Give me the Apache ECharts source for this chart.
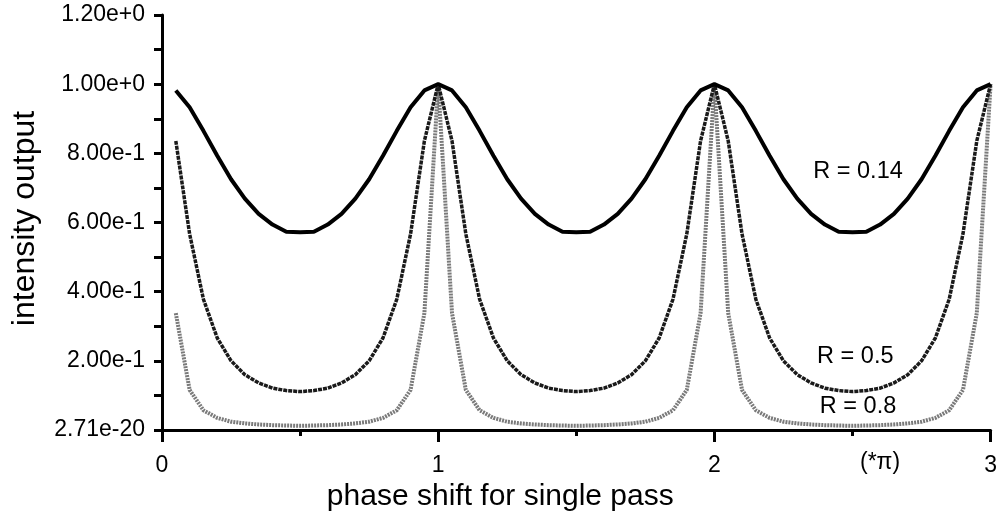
<!DOCTYPE html>
<html>
<head>
<meta charset="utf-8">
<script src="https://cdn.jsdelivr.net/npm/echarts@6/dist/echarts.min.js"></script>
<style>
  html, body { margin: 0; padding: 0; background: #fff; }
  #chart { width: 1000px; height: 521px; }
</style>
</head>
<body>
<div id="chart"></div>
<script>
// Phase shift for a single pass, in units of pi
var phase = [
  0.05, 0.10, 0.15, 0.20, 0.25, 0.30, 0.35, 0.40, 0.45, 0.50,
  0.55, 0.60, 0.65, 0.70, 0.75, 0.80, 0.85, 0.90, 0.95, 1.00,
  1.05, 1.10, 1.15, 1.20, 1.25, 1.30, 1.35, 1.40, 1.45, 1.50,
  1.55, 1.60, 1.65, 1.70, 1.75, 1.80, 1.85, 1.90, 1.95, 2.00,
  2.05, 2.10, 2.15, 2.20, 2.25, 2.30, 2.35, 2.40, 2.45, 2.50,
  2.55, 2.60, 2.65, 2.70, 2.75, 2.80, 2.85, 2.90, 2.95, 3.00
];

// Transmitted intensity for mirror reflectance R = 0.14
var r014 = [
  0.982, 0.933, 0.865, 0.793, 0.725, 0.669, 0.625, 0.594, 0.573, 0.572,
  0.573, 0.594, 0.625, 0.669, 0.725, 0.793, 0.865, 0.933, 0.982, 1.000,
  0.982, 0.933, 0.865, 0.793, 0.725, 0.669, 0.625, 0.594, 0.573, 0.572,
  0.573, 0.594, 0.625, 0.669, 0.725, 0.793, 0.865, 0.933, 0.982, 1.000,
  0.982, 0.933, 0.865, 0.793, 0.725, 0.669, 0.625, 0.594, 0.573, 0.572,
  0.573, 0.594, 0.625, 0.669, 0.725, 0.793, 0.865, 0.933, 0.982, 1.000
];

// R = 0.5
var r05 = [
  0.836, 0.567, 0.378, 0.266, 0.200, 0.160, 0.136, 0.121, 0.114, 0.111,
  0.114, 0.121, 0.136, 0.160, 0.200, 0.266, 0.378, 0.567, 0.836, 1.000,
  0.836, 0.567, 0.378, 0.266, 0.200, 0.160, 0.136, 0.121, 0.114, 0.111,
  0.114, 0.121, 0.136, 0.160, 0.200, 0.266, 0.378, 0.567, 0.836, 1.000,
  0.836, 0.567, 0.378, 0.266, 0.200, 0.160, 0.136, 0.121, 0.114, 0.111,
  0.114, 0.121, 0.136, 0.160, 0.200, 0.266, 0.378, 0.567, 0.836, 1.000
];

// R = 0.8
var r08 = [
  0.338, 0.116, 0.057, 0.035, 0.024, 0.019, 0.016, 0.014, 0.013, 0.012,
  0.013, 0.014, 0.016, 0.019, 0.024, 0.035, 0.057, 0.116, 0.338, 1.000,
  0.338, 0.116, 0.057, 0.035, 0.024, 0.019, 0.016, 0.014, 0.013, 0.012,
  0.013, 0.014, 0.016, 0.019, 0.024, 0.035, 0.057, 0.116, 0.338, 1.000,
  0.338, 0.116, 0.057, 0.035, 0.024, 0.019, 0.016, 0.014, 0.013, 0.012,
  0.013, 0.014, 0.016, 0.019, 0.024, 0.035, 0.057, 0.116, 0.338, 1.000
];

var yTickLabels = ['2.71e-20', '2.00e-1', '4.00e-1', '6.00e-1', '8.00e-1', '1.00e+0', '1.20e+0'];
var xTickLabels = ['0', '1', '2', '3'];

var FONT = '"Liberation Sans", Arial, Helvetica, sans-serif';

function pairs(xs, ys) {
  return xs.map(function (x, i) { return [x, ys[i]]; });
}

function curveLabel(text, coord) {
  return {
    symbol: 'circle',
    symbolSize: 1,
    itemStyle: { color: 'rgba(0,0,0,0)' },
    label: {
      show: true, position: 'inside', formatter: text,
      color: '#000', fontSize: 23.5, fontFamily: FONT
    },
    data: [{ coord: coord }]
  };
}

var chart = echarts.init(document.getElementById('chart'), null, { renderer: 'canvas' });

chart.setOption({
  animation: false,
  backgroundColor: '#fff',
  grid: { left: 162, right: 9, top: 15, bottom: 91, containLabel: false },
  xAxis: {
    type: 'value', min: 0, max: 3, interval: 1,
    name: 'phase shift for single pass',
    nameLocation: 'middle', nameGap: 49,
    // title sits left of the plot centre
    nameTextStyle: { fontSize: 30, fontFamily: FONT, color: '#000', padding: [0, 152, 0, 0] },
    axisLine: { show: true, onZero: false, lineStyle: { color: '#000', width: 3 } },
    axisTick: { show: true, inside: false, length: 12, lineStyle: { color: '#000', width: 3 } },
    minorTick: { show: true, splitNumber: 2, length: 6, lineStyle: { color: '#000', width: 3 } },
    axisLabel: {
      margin: 24, fontSize: 23, fontFamily: FONT, color: '#000',
      formatter: function (v) { return xTickLabels[Math.round(v)]; }
    },
    splitLine: { show: false }
  },
  yAxis: {
    type: 'value', min: 0, max: 1.2, interval: 0.2,
    name: 'intensity output',
    nameLocation: 'middle', nameGap: 121,
    nameTextStyle: { fontSize: 32, fontFamily: FONT, color: '#000', padding: [0, 0, 0, 8] },
    axisLine: { show: true, onZero: false, lineStyle: { color: '#000', width: 3 } },
    axisTick: { show: true, inside: false, length: 8, lineStyle: { color: '#000', width: 3 } },
    minorTick: { show: true, splitNumber: 2, length: 8, lineStyle: { color: '#000', width: 3 } },
    axisLabel: {
      margin: 17, fontSize: 23, fontFamily: FONT, color: '#000',
      formatter: function (v) { return yTickLabels[Math.round(v / 0.2)]; }
    },
    splitLine: { show: false }
  },
  series: [
    {
      name: 'R = 0.8', type: 'line', data: pairs(phase, r08),
      showSymbol: false, symbol: 'none', clip: false, z: 2,
      lineStyle: { color: '#7a7a7a', width: 4, type: [2, 1] },
      markPoint: curveLabel('R = 0.8', [2.52, 0.067])
    },
    {
      name: 'R = 0.5', type: 'line', data: pairs(phase, r05),
      showSymbol: false, symbol: 'none', clip: false, z: 3,
      lineStyle: { color: '#1a1a1a', width: 3.5, type: [4, 1] },
      markPoint: curveLabel('R = 0.5', [2.51, 0.212])
    },
    {
      name: 'R = 0.14', type: 'line', data: pairs(phase, r014),
      showSymbol: false, symbol: 'none', clip: false, z: 4,
      lineStyle: { color: '#000', width: 4 },
      markPoint: curveLabel('R = 0.14', [2.52, 0.748])
    }
  ],
  graphic: [
    {
      type: 'text', left: 860, top: 451, z: 10,
      style: { text: '(*π)', fontSize: 23, fontFamily: FONT, fill: '#000' }
    }
  ]
});
</script>
</body>
</html>
